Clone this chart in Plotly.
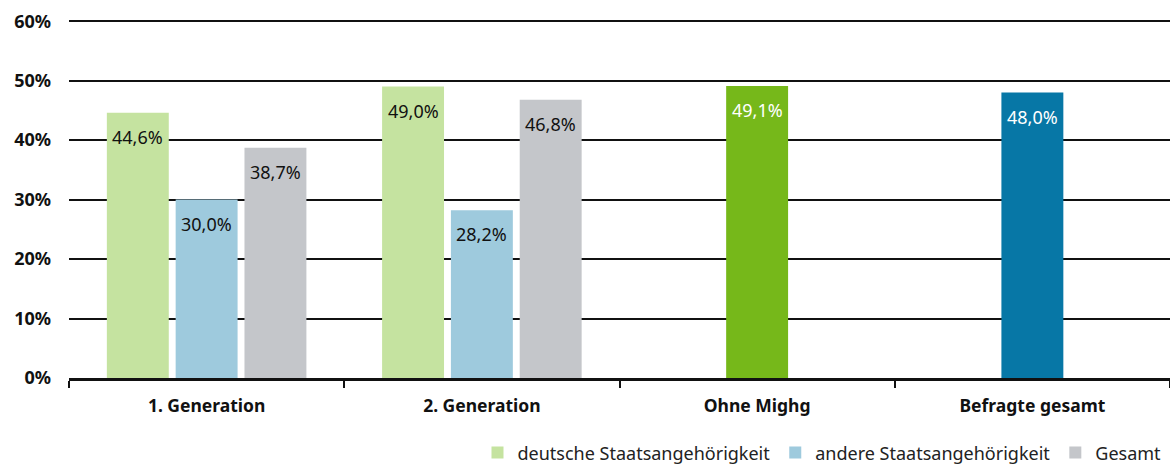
import plotly.graph_objects as go

categories = ["1. Generation", "2. Generation", "Ohne Mighg", "Befragte gesamt"]
deutsch = [44.6, 49.0]
andere = [30.0, 28.2]
gesamt = [38.7, 46.8]
ohne = [49.1]
befragte = [48.0]
y_ticks = [0, 10, 20, 30, 40, 50, 60]

FONT = "Noto Sans"
W = 0.225
GAP = 0.25

def fmt(v):
    return f"{v:.1f}".replace(".", ",") + "%"

fig = go.Figure()
series = [
    ("deutsche Staatsangehörigkeit", categories[:2], deutsch, "#c5e3a0", -GAP, True, "#111"),
    ("andere Staatsangehörigkeit", categories[:2], andere, "#9ecadd", 0.0, True, "#111"),
    ("Gesamt", categories[:2], gesamt, "#c4c6ca", GAP, True, "#111"),
    ("Ohne Mighg", categories[2:3], ohne, "#76b81a", 0.0, False, "white"),
    ("Befragte gesamt", categories[3:4], befragte, "#0777a6", 0.0, False, "white"),
]
annotations = []
for name, xs, ys, color, off, show, tcol in series:
    fig.add_trace(go.Bar(
        name=name, x=xs, y=ys, marker=dict(color=color, line=dict(width=0)),
        width=W, offset=off - W / 2, showlegend=show,
    ))
    for xc, yv in zip(xs, ys):
        annotations.append(dict(
            x=categories.index(xc) + off, y=yv, xref="x", yref="y",
            text=fmt(yv), showarrow=False, yanchor="middle", yshift=-24,
            font=dict(family=FONT, size=18, color=tcol),
        ))

fig.update_layout(
    width=1170, height=464,
    margin=dict(l=69, r=0, t=20, b=86),
    paper_bgcolor="white", plot_bgcolor="white",
    barmode="overlay",
    font=dict(family=FONT, size=18, color="#111"),
    annotations=annotations,
    legend=dict(orientation="h", xref="container", yref="container",
                x=0.997, xanchor="right", y=0.024, yanchor="middle",
                font=dict(family=FONT, size=18, color="#222"),
                itemwidth=30, traceorder="normal", tracegroupgap=0),
    xaxis=dict(
        type="category", categoryorder="array", categoryarray=categories,
        range=[-0.5, 3.5], automargin=False,
        showgrid=False, showline=True, linecolor="#111", linewidth=3,
        ticks="outside", tickson="boundaries", ticklen=7, tickwidth=2, tickcolor="#111",
        ticklabelstandoff=10,
        tickfont=dict(family=FONT, size=17.5, color="#111", weight="bold"),
    ),
    yaxis=dict(
        range=[0, 60.2], tickvals=y_ticks, ticktext=[f"{v}%" for v in y_ticks],
        showgrid=True, gridcolor="#111", gridwidth=2, zeroline=False, automargin=False,
        showline=False, ticks="", ticklabelstandoff=17,
        tickfont=dict(family=FONT, size=18, color="#111", weight="bold"),
    ),
)

fig.write_html("out.html", config={"displayModeBar": False},
               post_script="document.body.style.margin='0px';")
